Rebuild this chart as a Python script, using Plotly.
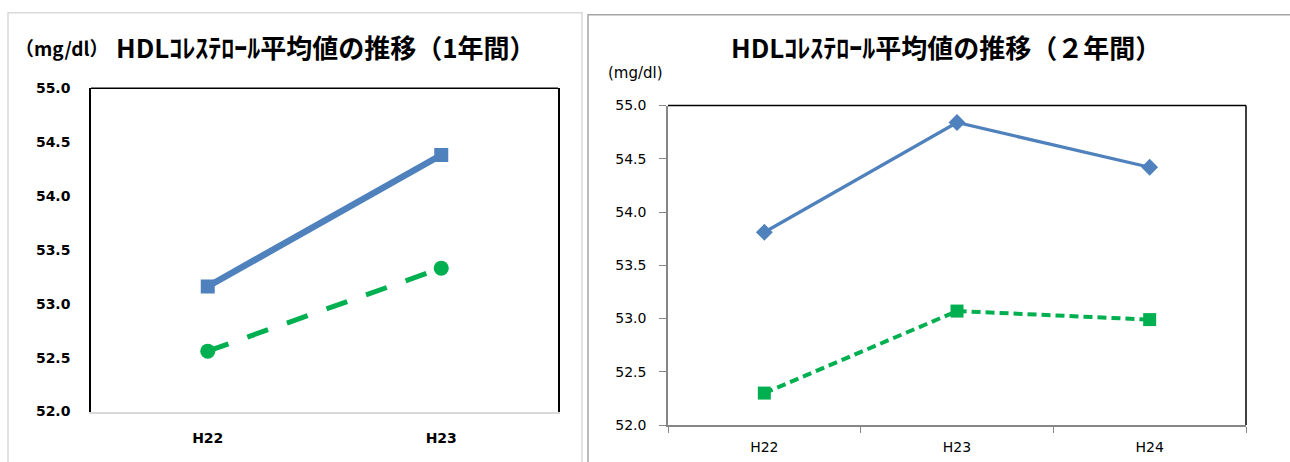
import plotly.graph_objects as go

# --- data -------------------------------------------------------------
years_1 = ["H22", "H23"]
hdl_blue_1 = [53.16, 54.38]
hdl_green_1 = [52.56, 53.33]

years_2 = ["H22", "H23", "H24"]
hdl_blue_2 = [53.81, 54.84, 54.42]
hdl_green_2 = [52.30, 53.07, 52.99]

y_ticks = [52.0, 52.5, 53.0, 53.5, 54.0, 54.5, 55.0]
y_tick_text = [f"{v:.1f}" for v in y_ticks]

title_1 = "HDLｺﾚｽﾃﾛｰﾙ平均値の推移（1年間）"
title_2 = "HDLｺﾚｽﾃﾛｰﾙ平均値の推移（２年間）"
unit_1 = "（mg/dl）"
unit_2 = "(mg/dl)"

# --- styling ----------------------------------------------------------
W, H = 1290, 462
BLUE = "#4F81BD"
GREEN = "#00B050"
JP = "Noto Sans CJK JP"
NUM = "DejaVu Sans"


def px_x(v):
    return v / W


def px_y(v):
    return 1 - v / H


fig = go.Figure()

# left chart (1 year)
fig.add_trace(go.Scatter(
    x=years_1, y=hdl_blue_1, xaxis="x", yaxis="y", mode="lines+markers",
    line=dict(color=BLUE, width=6.5),
    marker=dict(symbol="square", size=14, color=BLUE),
    showlegend=False, hoverinfo="skip"))
fig.add_trace(go.Scatter(
    x=years_1, y=hdl_green_1, xaxis="x", yaxis="y", mode="lines+markers",
    line=dict(color=GREEN, width=5, dash="22px,20px"),
    marker=dict(symbol="circle", size=15, color=GREEN),
    showlegend=False, hoverinfo="skip"))

# right chart (2 years)
fig.add_trace(go.Scatter(
    x=years_2, y=hdl_blue_2, xaxis="x2", yaxis="y2", mode="lines+markers",
    line=dict(color=BLUE, width=3.2),
    marker=dict(symbol="diamond", size=13, color=BLUE),
    showlegend=False, hoverinfo="skip"))
fig.add_trace(go.Scatter(
    x=years_2, y=hdl_green_2, xaxis="x2", yaxis="y2", mode="lines+markers",
    line=dict(color=GREEN, width=4, dash="9px,5px"),
    marker=dict(symbol="square", size=13, color=GREEN),
    showlegend=False, hoverinfo="skip"))

L_X0, L_X1, L_Y0, L_Y1 = 91, 558, 83, 418
R_X0, R_X1, R_Y0, R_Y1 = 668, 1246, 101, 432

fig.update_layout(
    width=W, height=H, autosize=False,
    margin=dict(l=0, r=0, t=0, b=0),
    paper_bgcolor="white", plot_bgcolor="white",
    xaxis=dict(
        domain=[px_x(L_X0), px_x(L_X1)], anchor="y",
        type="category", range=[-0.5, 1.5],
        showgrid=False, zeroline=False,
        showline=True, linecolor="#d9d9d9", linewidth=1.5,
        ticks="", tickfont=dict(family=NUM, size=14, color="black", weight="bold"),
        ticklabelstandoff=13,
    ),
    yaxis=dict(
        domain=[px_y(L_Y1), px_y(L_Y0)], anchor="x",
        range=[52.0, 55.0], tickvals=y_ticks, ticktext=y_tick_text,
        showgrid=False, zeroline=False,
        showline=True, linecolor="black", linewidth=1.5, mirror=True,
        ticks="", ticklabelstandoff=16,
        tickfont=dict(family=NUM, size=14, color="black", weight="bold"),
    ),
    xaxis2=dict(
        domain=[px_x(R_X0), px_x(R_X1)], anchor="y2",
        type="category", range=[-0.5, 2.5],
        showgrid=False, zeroline=False,
        showline=True, linecolor="#868686", linewidth=1.5,
        ticks="outside", tickson="boundaries", ticklen=6, tickcolor="#868686",
        ticklabelstandoff=8,
        tickfont=dict(family=NUM, size=14, color="black"),
    ),
    yaxis2=dict(
        domain=[px_y(R_Y1), px_y(R_Y0)], anchor="x2",
        range=[52.0, 55.0], tickvals=y_ticks, ticktext=y_tick_text,
        showgrid=False, zeroline=False,
        showline=True, linecolor="#868686", linewidth=1.5,
        ticks="outside", ticklen=7, tickcolor="#868686",
        ticklabelstandoff=10,
        tickfont=dict(family=NUM, size=14, color="black"),
    ),
)

shapes = []
# panel outlines
shapes.append(dict(type="rect", xref="paper", yref="paper",
                   x0=px_x(8), x1=px_x(582), y0=-0.2, y1=px_y(5),
                   line=dict(color="#d9d9d9", width=1.5), fillcolor="rgba(0,0,0,0)",
                   layer="below"))
shapes.append(dict(type="rect", xref="paper", yref="paper",
                   x0=px_x(588), x1=1.2, y0=-0.2, y1=px_y(7),
                   line=dict(color="#a6a6a6", width=1.5), fillcolor="rgba(0,0,0,0)",
                   layer="below"))
# frame top lines
shapes.append(dict(type="line", xref="x domain", yref="y domain",
                   x0=0, x1=1, y0=1, y1=1, line=dict(color="black", width=1.5)))
shapes.append(dict(type="line", xref="x2 domain", yref="y2 domain",
                   x0=0, x1=1, y0=1, y1=1, line=dict(color="black", width=1.5)))
# right chart right edge
shapes.append(dict(type="line", xref="x2 domain", yref="y2 domain",
                   x0=1, x1=1, y0=0, y1=1, line=dict(color="black", width=1.5)))
fig.update_layout(shapes=shapes)

annotations = [
    dict(text=unit_1, xref="paper", yref="paper", x=px_x(13), y=px_y(41),
         xanchor="left", yanchor="middle", showarrow=False,
         font=dict(family=JP, size=19, color="black", weight="bold")),
    dict(text=title_1, xref="paper", yref="paper", x=px_x(114), y=px_y(40),
         xanchor="left", yanchor="middle", showarrow=False,
         font=dict(family=JP, size=26, color="black", weight="bold")),
    dict(text=title_2, xref="paper", yref="paper", x=px_x(946), y=px_y(40),
         xanchor="center", yanchor="middle", showarrow=False,
         font=dict(family=JP, size=26, color="black", weight="bold")),
    dict(text=unit_2, xref="paper", yref="paper", x=px_x(606), y=px_y(67),
         xanchor="left", yanchor="middle", showarrow=False,
         font=dict(family=NUM, size=15, color="black")),
]
fig.update_layout(annotations=annotations)

fig.write_html("out.html")
